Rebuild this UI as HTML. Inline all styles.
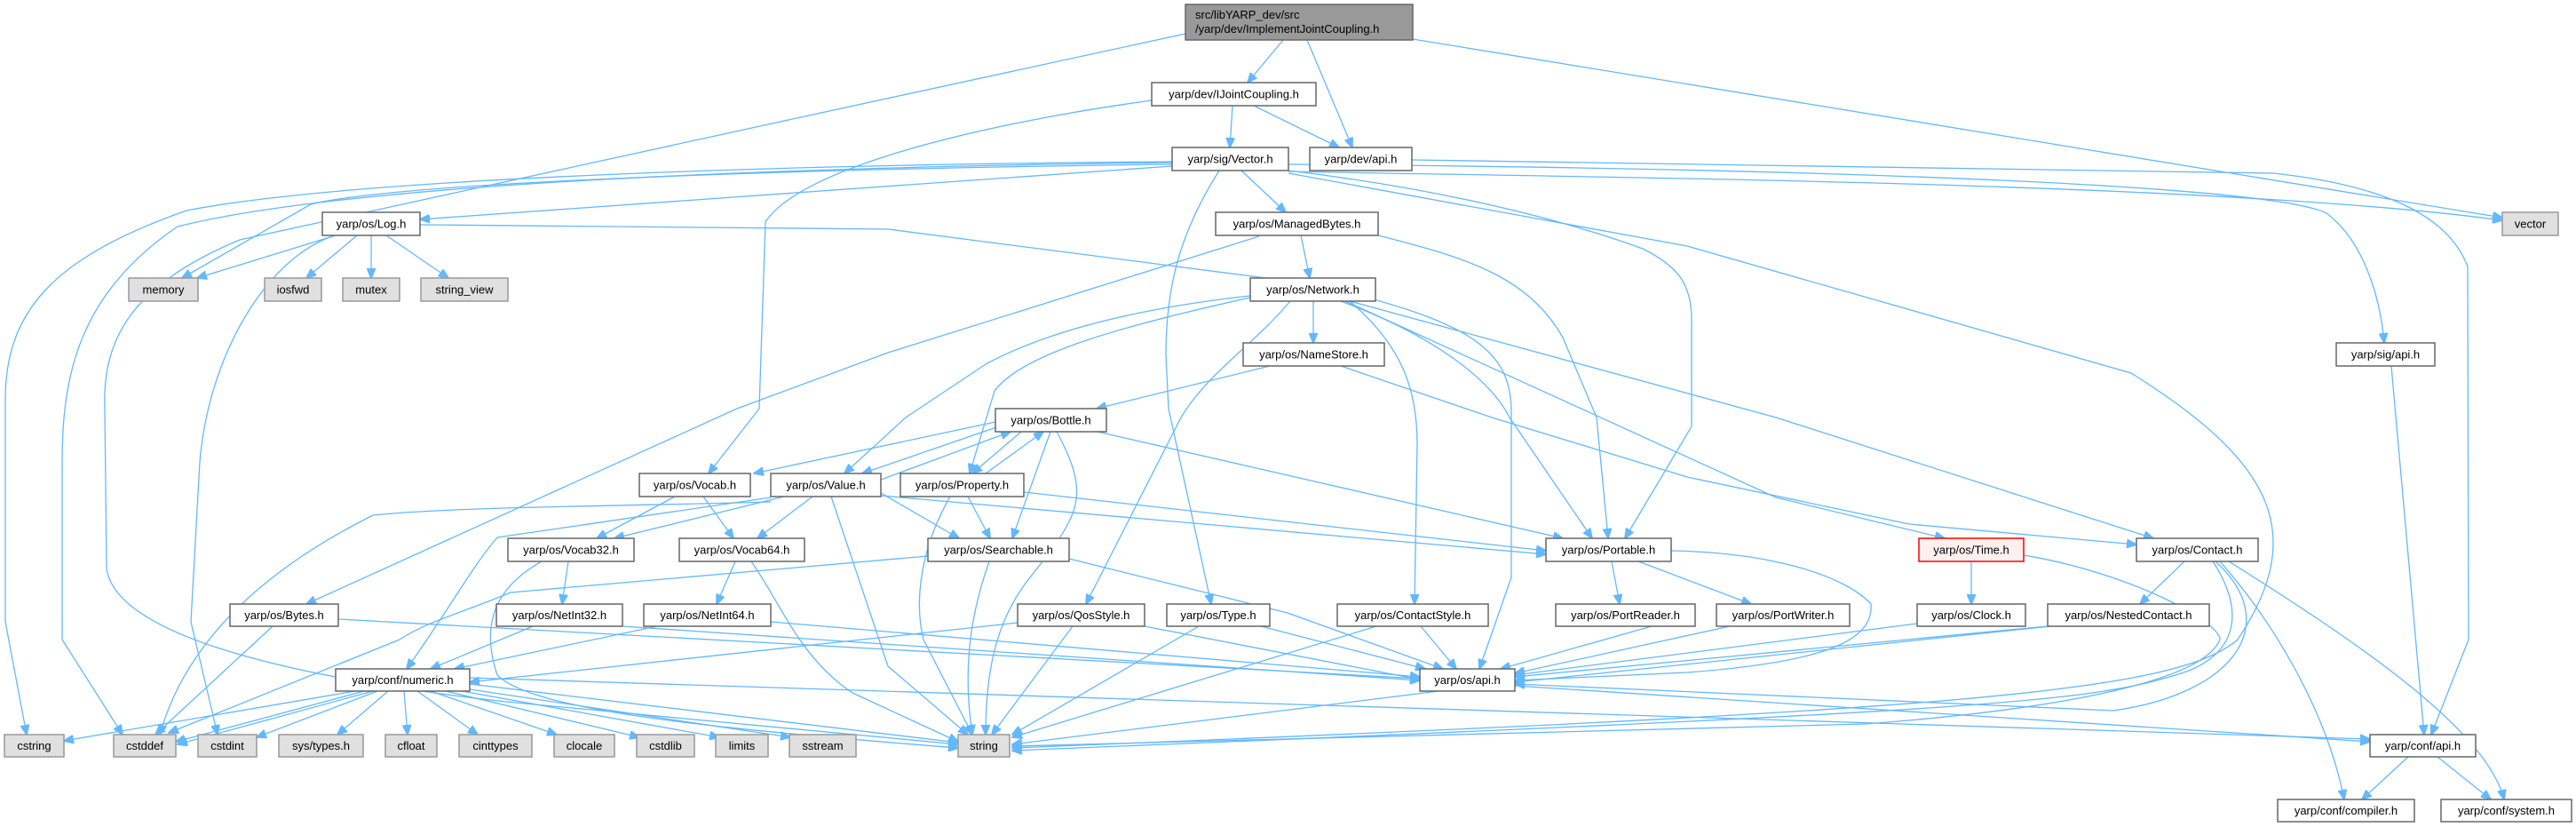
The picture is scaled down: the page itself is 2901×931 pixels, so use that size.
<!DOCTYPE html>
<html><head><meta charset="utf-8"><style>
html,body{margin:0;padding:0;background:#fff;}
svg{display:block;}
text{font-family:"Liberation Sans",sans-serif;font-size:13px;fill:#000;}
.e{fill:none;stroke:#63b8ff;stroke-width:1.3;}
.n{fill:#fff;stroke:#666;stroke-width:1.5;}
.g{fill:#e0e0e0;stroke:#999;stroke-width:1.5;}
</style></head><body>
<svg width="2901" height="931" viewBox="0 0 2901 931" xmlns="http://www.w3.org/2000/svg">
<defs><marker id="a" markerWidth="12" markerHeight="10" refX="11" refY="5" orient="auto" markerUnits="userSpaceOnUse"><path d="M0,0 L12,5 L0,10 z" fill="#63b8ff" stroke="#63b8ff"/></marker></defs>
<g class="e" marker-end="url(#a)">
<!-- root -->
<path d="M1445,45 L1405,93"/>
<path d="M1472,45 L1523,166"/>
<path d="M1591,44 L2818,245"/>
<path d="M1335,38 C1000,110 500,220 270,270 C150,320 115,380 118,460 L120,640 C130,710 300,760 570,790 L1079,838"/>
<!-- IJointCoupling -->
<path d="M1388,119 L1385,166"/>
<path d="M1412,119 L1508,166"/>
<path d="M1297,113 C1100,140 900,190 862,250 L855,460 L798,533"/>
<!-- Vector.h -->
<path d="M1320,182 C900,185 400,200 210,237 C60,290 6,350 6,450 L6,700 L30,827"/>
<path d="M1320,183 C900,188 400,205 200,255 C90,330 70,420 70,520 L70,720 L138,827"/>
<path d="M1320,185 C900,190 450,205 350,230 L205,313"/>
<path d="M1320,187 L473,247"/>
<path d="M1398,192 L1448,239"/>
<path d="M1373,192 C1330,260 1313,320 1313,400 L1316,460 L1364,680"/>
<path d="M1451,193 C1800,200 2500,205 2818,248"/>
<path d="M1451,192 C1600,210 1740,240 1850,280 C1890,300 1905,320 1905,360 L1905,480 L1830,606"/>
<path d="M1451,195 L1900,277 L2400,420 C2560,520 2600,600 2520,720 C2450,780 2200,800 1140,842"/>
<path d="M1451,185 C2100,190 2560,210 2620,240 C2660,270 2680,330 2685,386"/>
<!-- dev/api.h -->
<path d="M1590,180 L2560,195 C2700,210 2760,250 2779,300 L2780,720 L2738,827"/>
<path d="M2693,412 L2730,827"/>
<!-- Log.h -->
<path d="M378,265 L222,313"/>
<path d="M402,265 L345,313"/>
<path d="M418,265 L418,313"/>
<path d="M435,265 L505,313"/>
<path d="M377,265 C300,290 235,400 225,520 L215,700 L245,827"/>
<path d="M473,253 L1000,258 L1480,320 C1650,360 1700,390 1702,460 L1702,650 L1666,753"/>
<!-- ManagedBytes -->
<path d="M1465,265 L1475,313"/>
<path d="M1418,266 L1000,397 L830,460 L345,680"/>
<path d="M1552,265 C1650,290 1720,310 1760,380 L1798,470 L1811,606"/>
<!-- Network -->
<path d="M1479,339 L1479,386"/>
<path d="M1430,412 L1235,460"/>
<path d="M1510,412 L1680,470 L1900,537 L2150,590 L2406,613"/>
<path d="M1408,333 C1300,345 1190,367 1110,410 L1020,470 L951,533"/>
<path d="M1408,335 C1250,370 1150,400 1120,440 L1092,533"/>
<path d="M1453,339 C1410,390 1360,420 1330,470 L1223,680"/>
<path d="M1520,339 C1580,390 1596,440 1596,500 L1593,680"/>
<path d="M1510,339 C1620,380 1680,430 1700,470 L1793,606"/>
<path d="M1515,339 L2000,560 L2190,606"/>
<path d="M1520,339 L2000,470 L2425,606"/>
<!-- Bottle -->
<path d="M1121,475 L849,533"/>
<path d="M1125,480 L971,533"/>
<path d="M1183,486 L1140,606"/>
<path d="M1190,486 C1230,560 1215,580 1160,650 C1120,700 1110,760 1110,827"/>
<path d="M1236,486 L1760,606"/>
<path d="M1150,486 L1095,533"/>
<!-- Property -->
<path d="M1110,533 L1175,486"/>
<path d="M1090,559 L1115,606"/>
<path d="M1153,554 L1741,620"/>
<path d="M1070,559 C1035,620 1030,680 1040,720 L1095,827"/>
<!-- Value -->
<path d="M992,540 L1138,486"/>
<path d="M992,555 L1080,606"/>
<path d="M992,558 L1741,624"/>
<path d="M883,559 L692,606"/>
<path d="M915,559 L853,606"/>
<path d="M868,560 L560,605 C530,640 510,680 458,753"/>
<path d="M868,565 C700,570 520,570 420,580 C300,640 210,720 180,827"/>
<path d="M936,559 L1000,750 L1090,827"/>
<!-- Vocab -->
<path d="M760,559 L672,606"/>
<path d="M792,559 L826,606"/>
<!-- Vocab32/64 -->
<path d="M640,632 L633,680"/>
<path d="M610,632 C560,660 540,700 560,760 C600,800 800,820 1079,842"/>
<path d="M828,632 L807,680"/>
<path d="M846,632 C880,680 900,740 960,780 L1079,835"/>
<!-- NetInt -->
<path d="M600,705 L485,753"/>
<path d="M740,705 L512,753"/>
<path d="M701,705 L1599,766"/>
<path d="M868,700 L1599,762"/>
<!-- Bytes -->
<path d="M307,705 L175,827"/>
<path d="M381,697 L1599,764"/>
<!-- Searchable -->
<path d="M1045,626 L575,667 C520,690 480,700 450,720 L190,825"/>
<path d="M1114,632 C1090,700 1085,760 1095,827"/>
<path d="M1204,629 L1450,690 L1625,753"/>
<!-- Portable -->
<path d="M1815,632 L1824,680"/>
<path d="M1845,632 L1972,680"/>
<path d="M1882,620 C2000,622 2080,650 2107,680 C2110,720 2060,745 1900,757 L1706,766"/>
<path d="M1860,705 L1690,753"/>
<path d="M1948,705 L1706,758"/>
<!-- QosStyle Type ContactStyle -->
<path d="M1289,705 L1599,765"/>
<path d="M1208,705 L1117,827"/>
<path d="M1146,701 L529,768"/>
<path d="M1420,705 L1605,753"/>
<path d="M1350,705 L1140,827"/>
<path d="M1600,705 L1640,753"/>
<path d="M1550,705 L1140,830"/>
<!-- Time / Contact -->
<path d="M2220,632 L2220,680"/>
<path d="M2279,625 C2400,645 2500,700 2500,720 C2480,770 2300,800 2100,815 L1140,840"/>
<path d="M2159,702 L1706,760"/>
<path d="M2306,705 L1706,762"/>
<path d="M2310,705 L1706,768"/>
<path d="M2460,632 L2410,680"/>
<path d="M2492,632 C2530,690 2520,740 2450,760 C2350,790 2250,800 1140,845"/>
<path d="M2495,632 C2570,700 2520,780 2380,800 L1706,770"/>
<path d="M2500,632 C2560,700 2620,800 2640,900"/>
<path d="M2510,632 C2650,720 2800,820 2820,900"/>
<!-- conf/api -->
<path d="M2712,852 L2660,900"/>
<path d="M2745,852 L2805,900"/>
<path d="M1706,772 L2669,835"/>
<path d="M1620,778 L1140,838"/>
<!-- numeric -->
<path d="M400,778 L72,834"/>
<path d="M410,778 L198,835"/>
<path d="M420,778 L200,838"/>
<path d="M425,778 L289,830"/>
<path d="M437,778 L380,827"/>
<path d="M455,778 L459,827"/>
<path d="M470,778 L538,827"/>
<path d="M485,778 L627,827"/>
<path d="M502,778 L720,830"/>
<path d="M520,778 L810,830"/>
<path d="M529,776 L890,830"/>
<path d="M529,770 L1079,836"/>
<path d="M529,763 L2669,832"/>
</g>
<!-- nodes -->
<rect x="1335" y="5" width="256" height="40" fill="#999" stroke="#666" stroke-width="1.5"/>
<text x="1346" y="21">src/libYARP_dev/src</text>
<text x="1346" y="37">/yarp/dev/ImplementJointCoupling.h</text>
<g text-anchor="middle">
<rect class="n" x="1297" y="93" width="185" height="26"/><text x="1389.5" y="110.5">yarp/dev/IJointCoupling.h</text>
<rect class="n" x="1320" y="166" width="131" height="26"/><text x="1385.5" y="183.5">yarp/sig/Vector.h</text>
<rect class="n" x="1475" y="166" width="115" height="26"/><text x="1532.5" y="183.5">yarp/dev/api.h</text>
<rect class="n" x="1369" y="239" width="183" height="26"/><text x="1460.5" y="256.5">yarp/os/ManagedBytes.h</text>
<rect class="n" x="1408" y="313" width="141" height="26"/><text x="1478.5" y="330.5">yarp/os/Network.h</text>
<rect class="n" x="1400" y="386" width="159" height="26"/><text x="1479.5" y="403.5">yarp/os/NameStore.h</text>
<rect class="n" x="363" y="239" width="110" height="26"/><text x="418" y="256.5">yarp/os/Log.h</text>
<rect class="g" x="145" y="313" width="78" height="26"/><text x="184" y="330.5">memory</text>
<rect class="g" x="298" y="313" width="64" height="26"/><text x="330" y="330.5">iosfwd</text>
<rect class="g" x="386" y="313" width="64" height="26"/><text x="418" y="330.5">mutex</text>
<rect class="g" x="474" y="313" width="98" height="26"/><text x="523" y="330.5">string_view</text>
<rect class="g" x="2818" y="239" width="63" height="26"/><text x="2849.5" y="256.5">vector</text>
<rect class="n" x="2631" y="386" width="111" height="26"/><text x="2686.5" y="403.5">yarp/sig/api.h</text>
<rect class="n" x="1121" y="460" width="125" height="26"/><text x="1183.5" y="477.5">yarp/os/Bottle.h</text>
<rect class="n" x="720" y="533" width="125" height="26"/><text x="782.5" y="550.5">yarp/os/Vocab.h</text>
<rect class="n" x="868" y="533" width="124" height="26"/><text x="930" y="550.5">yarp/os/Value.h</text>
<rect class="n" x="1014" y="533" width="139" height="26"/><text x="1083.5" y="550.5">yarp/os/Property.h</text>
<rect class="n" x="572" y="606" width="142" height="26"/><text x="643" y="623.5">yarp/os/Vocab32.h</text>
<rect class="n" x="765" y="606" width="141" height="26"/><text x="835.5" y="623.5">yarp/os/Vocab64.h</text>
<rect class="n" x="1045" y="606" width="159" height="26"/><text x="1124.5" y="623.5">yarp/os/Searchable.h</text>
<rect class="n" x="1741" y="606" width="141" height="26"/><text x="1811.5" y="623.5">yarp/os/Portable.h</text>
<rect x="2161" y="606" width="118" height="26" fill="#fff0f0" stroke="#ff0000" stroke-width="1.5"/><text x="2220" y="623.5">yarp/os/Time.h</text>
<rect class="n" x="2406" y="606" width="137" height="26"/><text x="2474.5" y="623.5">yarp/os/Contact.h</text>
<rect class="n" x="259" y="680" width="122" height="25"/><text x="320" y="697">yarp/os/Bytes.h</text>
<rect class="n" x="559" y="680" width="142" height="25"/><text x="630" y="697">yarp/os/NetInt32.h</text>
<rect class="n" x="725" y="680" width="143" height="25"/><text x="796.5" y="697">yarp/os/NetInt64.h</text>
<rect class="n" x="1146" y="680" width="143" height="25"/><text x="1217.5" y="697">yarp/os/QosStyle.h</text>
<rect class="n" x="1314" y="680" width="116" height="25"/><text x="1372" y="697">yarp/os/Type.h</text>
<rect class="n" x="1506" y="680" width="170" height="25"/><text x="1591" y="697">yarp/os/ContactStyle.h</text>
<rect class="n" x="1752" y="680" width="157" height="25"/><text x="1830.5" y="697">yarp/os/PortReader.h</text>
<rect class="n" x="1933" y="680" width="150" height="25"/><text x="2008" y="697">yarp/os/PortWriter.h</text>
<rect class="n" x="2159" y="680" width="122" height="25"/><text x="2220" y="697">yarp/os/Clock.h</text>
<rect class="n" x="2306" y="680" width="182" height="25"/><text x="2397" y="697">yarp/os/NestedContact.h</text>
<rect class="n" x="378" y="753" width="151" height="25"/><text x="453.5" y="770">yarp/conf/numeric.h</text>
<rect class="n" x="1599" y="753" width="107" height="25"/><text x="1652.5" y="770">yarp/os/api.h</text>
<rect class="g" x="5" y="827" width="67" height="25"/><text x="38.5" y="844">cstring</text>
<rect class="g" x="128" y="827" width="70" height="25"/><text x="163" y="844">cstddef</text>
<rect class="g" x="223" y="827" width="66" height="25"/><text x="256" y="844">cstdint</text>
<rect class="g" x="314" y="827" width="95" height="25"/><text x="361.5" y="844">sys/types.h</text>
<rect class="g" x="434" y="827" width="58" height="25"/><text x="463" y="844">cfloat</text>
<rect class="g" x="517" y="827" width="82" height="25"/><text x="558" y="844">cinttypes</text>
<rect class="g" x="624" y="827" width="68" height="25"/><text x="658" y="844">clocale</text>
<rect class="g" x="717" y="827" width="65" height="25"/><text x="749.5" y="844">cstdlib</text>
<rect class="g" x="806" y="827" width="59" height="25"/><text x="835.5" y="844">limits</text>
<rect class="g" x="889" y="827" width="75" height="25"/><text x="926.5" y="844">sstream</text>
<rect class="g" x="1079" y="827" width="58" height="25"/><text x="1108" y="844">string</text>
<rect class="n" x="2669" y="827" width="119" height="25"/><text x="2728.5" y="844">yarp/conf/api.h</text>
<rect class="n" x="2565" y="900" width="154" height="25"/><text x="2642" y="917">yarp/conf/compiler.h</text>
<rect class="n" x="2749" y="900" width="147" height="25"/><text x="2822.5" y="917">yarp/conf/system.h</text>
</g>
</svg>
</body></html>
